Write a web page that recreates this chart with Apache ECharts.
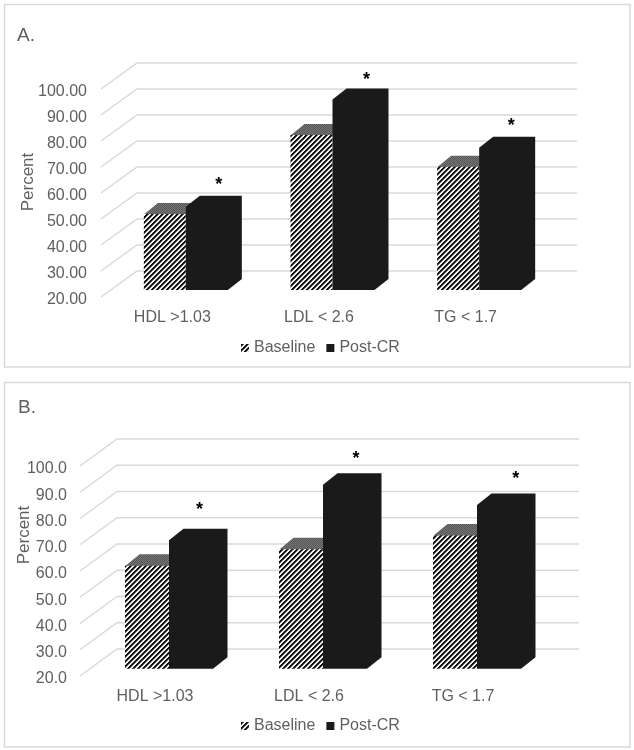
<!DOCTYPE html>
<html><head><meta charset="utf-8">
<style>html,body{margin:0;padding:0;background:#fff}#c{width:634px;height:750px}</style>
<script src="https://cdn.jsdelivr.net/npm/echarts@6/dist/echarts.min.js"></script>
</head><body><div id="c"></div>
<script>
const categories = ['HDL >1.03', 'LDL < 2.6', 'TG < 1.7'];
const yTicks = [20, 30, 40, 50, 60, 70, 80, 90, 100];
const baselineA = [49.2, 79.6, 67.4];
const postCrA = [52.0, 93.3, 74.7];
const starsA = [64.5, 105, 87.2];
const baselineB = [59.2, 65.5, 70.7];
const postCrB = [68.9, 90.1, 82.4];
const starsB = [84.6, 104.1, 96.5];

const FONT = '"Liberation Sans", Arial, sans-serif';
const GREY = '#5f5f5f', LINE = '#d9d9d9', BLACK = '#1a1a1a';

function tile(w, h, draw) {
  const c = document.createElement('canvas'); c.width = w; c.height = h;
  draw(c.getContext('2d'), w, h); return c;
}
const hatch = tile(5, 5, (g, w, h) => {
  const shades = ['#111', '#111', '#666', '#fff', '#e4e4e4'];
  for (let y = 0; y < h; y++) for (let x = 0; x < w; x++) {
    g.fillStyle = shades[(x + y) % 5]; g.fillRect(x, y, 1, 1);
  }
});
const dither = tile(2, 2, (g) => {
  g.fillStyle = '#777'; g.fillRect(0, 0, 2, 2);
  g.fillStyle = '#555'; g.fillRect(0, 0, 1, 1); g.fillRect(1, 1, 1, 1);
});
const hatchFill = { image: hatch, repeat: 'repeat' };
const ditherFill = { image: dither, repeat: 'repeat' };

function poly(points, fill) {
  return { type: 'polygon', shape: { points }, style: { fill, stroke: null } };
}
function gridSeries(ix, wall) {
  return {
    type: 'custom', xAxisIndex: ix, yAxisIndex: ix, silent: true, clip: false, z: 1,
    data: yTicks.map(t => [0, t]),
    renderItem(params, api) {
      const cs = params.coordSys, y = api.coord([0, api.value(1)])[1];
      return { type: 'polyline',
        shape: { points: [[cs.x, y], [cs.x + wall.dx, y - wall.dy], [cs.x + cs.width + wall.dx, y - wall.dy]] },
        style: { stroke: LINE, lineWidth: 1.4, fill: null } };
    }
  };
}
function barSeries(ix, name, values, side, geo) {
  const isBase = side < 0;
  return {
    name, type: 'custom', xAxisIndex: ix, yAxisIndex: ix, silent: true, clip: false, z: 2,
    itemStyle: { color: isBase ? hatchFill : BLACK },
    data: values.map((v, i) => [i, v]),
    renderItem(params, api) {
      const p = api.coord([api.value(0), api.value(1)]);
      const b = api.coord([api.value(0), 20]);
      const c = p[0] + geo.offX, top = p[1] - geo.offY, bot = b[1] - geo.offY;
      const x0 = isBase ? c - geo.w : c, x1 = x0 + geo.w;
      const d = geo.dx, e = geo.dy;
      if (isBase) {
        return { type: 'group', children: [
          poly([[x0, top + 0.5], [x0 + d, top - e], [x1 + d, top - e], [x1, top + 0.5]], ditherFill),
          poly([[x0, top], [x1, top], [x1, bot], [x0, bot]], hatchFill)
        ] };
      }
      return poly([[x0, top], [x0 + d, top - e], [x1 + d, top - e], [x1 + d, bot - e], [x1, bot], [x0, bot]], BLACK);
    }
  };
}
function starSeries(ix, values, shifts) {
  return {
    type: 'custom', xAxisIndex: ix, yAxisIndex: ix, silent: true, clip: false, z: 3,
    data: values.map((v, i) => [i, v]),
    renderItem(params, api) {
      const p = api.coord([api.value(0), api.value(1)]);
      return { type: 'text', x: p[0] + shifts[params.dataIndex], y: p[1] + 4,
        style: { text: '*', fill: '#000', font: 'bold 18px ' + FONT, align: 'center', verticalAlign: 'middle' } };
    }
  };
}
function axisPair(margin, nameGap, namePad, digits) {
  return {
    x: { type: 'category', data: categories, axisLine: { show: false }, axisTick: { show: false },
      splitLine: { show: false },
      axisLabel: { color: GREY, fontSize: 16, fontFamily: FONT, margin: 13, padding: [0, 4, 0, 0], interval: 0 } },
    y: { type: 'value', min: 20, max: 100, interval: 10, name: 'Percent', nameLocation: 'middle', nameGap,
      nameRotate: 90, nameMoveOverlap: false,
      nameTextStyle: { color: GREY, fontSize: 17, fontFamily: FONT, padding: [0, 0, 0, namePad] },
      axisLine: { show: false }, axisTick: { show: false }, splitLine: { show: false },
      axisLabel: { color: GREY, fontSize: 16, fontFamily: FONT, margin, verticalAlign: 'top', lineHeight: 16,
        padding: [-5, 0, 0, 0], formatter: v => v.toFixed(digits) } }
  };
}
const A = axisPair(14, 64, 22, 2), B = axisPair(13, 47.5, 72, 1);
const geoA = { offX: 11.5, offY: 7, w: 42, dx: 14, dy: 11 };
const geoB = { offX: 12, offY: 7.3, w: 44, dx: 14.5, dy: 11.5 };
const legendBase = { selectedMode: false, icon: 'rect', itemWidth: 8, itemHeight: 8, itemGap: 11,
  data: ['Baseline', 'Post-CR'], textStyle: { color: GREY, fontSize: 16, fontFamily: FONT } };
function frame(x, y, w, h) {
  return { type: 'rect', z: -1, shape: { x, y, width: w, height: h },
    style: { fill: '#fff', stroke: LINE, lineWidth: 1.5 } };
}
const chart = echarts.init(document.getElementById('c'), null, { renderer: 'canvas', width: 634, height: 750 });
chart.setOption({
  animation: false, backgroundColor: '#fff',
  graphic: [frame(4.5, 4.5, 625.5, 362.5), frame(4.5, 382.5, 625.5, 364.5)],
  title: [
    { text: 'A.', left: 12, top: 21, textStyle: { color: GREY, fontSize: 19, fontWeight: 'normal', fontFamily: FONT } },
    { text: 'B.', left: 13, top: 393, textStyle: { color: GREY, fontSize: 19, fontWeight: 'normal', fontFamily: FONT } }
  ],
  legend: [
    Object.assign({}, legendBase, { left: 236, top: 335 }),
    Object.assign({}, legendBase, { left: 236, top: 713 })
  ],
  grid: [
    { left: 101, top: 89, width: 440, height: 208, outerBoundsMode: 'none' },
    { left: 80, top: 466, width: 462, height: 210, outerBoundsMode: 'none' }
  ],
  xAxis: [Object.assign({ gridIndex: 0 }, A.x), Object.assign({ gridIndex: 1 }, B.x)],
  yAxis: [Object.assign({ gridIndex: 0 }, A.y), Object.assign({ gridIndex: 1 }, B.y)],
  series: [
    gridSeries(0, { dx: 36, dy: 26 }),
    barSeries(0, 'Baseline', baselineA, -1, geoA),
    barSeries(0, 'Post-CR', postCrA, 1, geoA),
    starSeries(0, starsA, [44.5, 45.5, 43.5]),
    gridSeries(1, { dx: 37, dy: 27 }),
    barSeries(1, 'Baseline', baselineB, -1, geoB),
    barSeries(1, 'Post-CR', postCrB, 1, geoB),
    starSeries(1, starsB, [42.5, 45, 50.7])
  ]
});
</script></body></html>
